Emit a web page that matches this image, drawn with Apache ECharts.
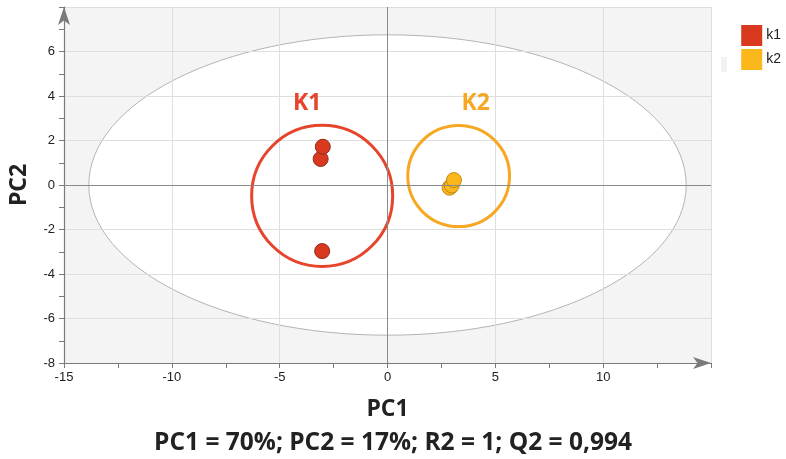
<!DOCTYPE html>
<html>
<head>
<meta charset="utf-8">
<script src="https://cdn.jsdelivr.net/npm/echarts@6/dist/echarts.min.js"></script>
<style>
  html, body { margin: 0; padding: 0; background: #fff; }
  #chart { width: 786px; height: 459px; }
</style>
</head>
<body>
<div id="chart"></div>
<script>
// PCA score plot, two groups with confidence circles
const groupNames = ['k1', 'k2'];
const k1Points = [[-3.1, 1.17], [-3.0, 1.72], [-3.03, -2.97]];
const k2Points = [[2.88, -0.12], [2.98, -0.02], [3.08, 0.22]];
// [centerX, centerY, radiusX, radiusY, label]
const clusterCircles = [
  [-3.03, -0.49, 3.27, 3.17, 'K1'],
  [3.3, 0.4, 2.36, 2.27, 'K2']
];
// Hotelling ellipse [centerX, centerY, radiusX, radiusY]
const hotelling = [[0, 0, 13.85, 6.75]];
const xRange = [-15, 15];
const yRange = [-8, 8];
const footnote = 'PC1 = 70%; PC2 = 17%; R2 = 1; Q2 = 0,994';

const circleColors = ['#e6442b', '#f7a823'];
const labelOffsets = [[-15, -22], [17, -22]];

const chart = echarts.init(document.getElementById('chart'));

function ellipseItem(params, api) {
  const c = api.coord([api.value(0), api.value(1)]);
  const s = api.size([api.value(2), api.value(3)]);
  return {
    type: 'ellipse',
    shape: { cx: c[0], cy: c[1], rx: s[0], ry: s[1] },
    style: { fill: '#fff', stroke: '#b4b4b4', lineWidth: 1 }
  };
}

function circleItem(params, api) {
  const c = api.coord([api.value(0), api.value(1)]);
  const s = api.size([api.value(2), api.value(3)]);
  const color = circleColors[params.dataIndex];
  const off = labelOffsets[params.dataIndex];
  return {
    type: 'group',
    children: [{
      type: 'ellipse',
      shape: { cx: c[0], cy: c[1], rx: s[0], ry: s[1] },
      style: { fill: 'none', stroke: color, lineWidth: 3 }
    }, {
      type: 'text',
      x: c[0] + off[0],
      y: c[1] - s[1] + off[1],
      style: {
        text: api.value(4),
        fill: color,
        font: 'bold 23px "Open Sans"',
        align: 'center',
        verticalAlign: 'middle'
      }
    }]
  };
}

const axisFont = { color: '#222', fontSize: 13, fontFamily: 'Liberation Sans' };

const option = {
  animation: false,
  grid: {
    left: 60, right: 75, top: 7, bottom: 96,
    show: true,
    backgroundColor: '#f4f4f4',
    borderWidth: 0,
    z: 0
  },
  legend: {
    data: groupNames,
    orient: 'vertical',
    right: 0,
    top: 20,
    icon: 'rect',
    itemWidth: 21,
    itemHeight: 21,
    itemGap: 3,
    itemStyle: { borderWidth: 0, opacity: 1 },
    textStyle: { color: '#222', fontSize: 14, fontFamily: 'Liberation Sans', padding: [0, 0, 0, -1] }
  },
  xAxis: {
    type: 'value',
    min: xRange[0],
    max: xRange[1],
    interval: 5,
    z: 1,
    name: 'PC1',
    nameLocation: 'middle',
    nameGap: 35,
    nameTextStyle: { color: '#222', fontSize: 23, fontWeight: 'bold', fontFamily: 'Open Sans' },
    axisLine: {
      onZero: false,
      symbol: ['none', 'arrow'],
      symbolSize: [9, 18],
      lineStyle: { color: '#7a7a7a', width: 1.2 }
    },
    axisTick: { show: true, length: 5, lineStyle: { color: '#7a7a7a' } },
    minorTick: { show: true, splitNumber: 2, length: 5, lineStyle: { color: '#7a7a7a' } },
    axisLabel: Object.assign({ margin: 8, showMaxLabel: false }, axisFont),
    splitLine: { show: true, lineStyle: { color: '#dedede', width: 1 } }
  },
  yAxis: {
    type: 'value',
    min: yRange[0],
    max: yRange[1],
    interval: 2,
    z: 1,
    name: 'PC2',
    nameLocation: 'middle',
    nameGap: 33,
    nameRotate: 90,
    nameTextStyle: { color: '#222', fontSize: 23, fontWeight: 'bold', fontFamily: 'Open Sans' },
    axisLine: {
      onZero: false,
      symbol: ['none', 'arrow'],
      symbolSize: [9, 18],
      lineStyle: { color: '#7a7a7a', width: 1.2 }
    },
    axisTick: { show: true, length: 5, lineStyle: { color: '#7a7a7a' } },
    minorTick: { show: true, splitNumber: 2, length: 5, lineStyle: { color: '#7a7a7a' } },
    axisLabel: Object.assign({ margin: 9, showMaxLabel: false }, axisFont),
    splitLine: { show: true, lineStyle: { color: '#dedede', width: 1 } }
  },
  graphic: [{
    type: 'text',
    left: 'center',
    top: 431,
    style: {
      text: footnote,
      fill: '#222',
      font: 'bold 24.5px "Open Sans"'
    }
  }, {
    type: 'rect',
    left: 721,
    top: 57,
    shape: { width: 6, height: 15 },
    style: { fill: '#f2f2f2' }
  }],
  series: [{
    type: 'custom',
    name: 'hotelling',
    z: 0.5,
    silent: true,
    renderItem: ellipseItem,
    data: hotelling,
    markLine: {
      silent: true,
      symbol: 'none',
      label: { show: false },
      lineStyle: { color: '#8a8a8a', width: 1, type: 'solid' },
      data: [{ xAxis: 0 }, { yAxis: 0 }]
    }
  }, {
    type: 'custom',
    name: 'circles',
    z: 3,
    silent: true,
    renderItem: circleItem,
    data: clusterCircles
  }, {
    type: 'scatter',
    name: groupNames[0],
    symbolSize: 15,
    z: 4,
    itemStyle: { color: '#d8391f', borderColor: '#93291a', borderWidth: 1, opacity: 1 },
    data: k1Points
  }, {
    type: 'scatter',
    name: groupNames[1],
    symbolSize: 15,
    z: 4,
    itemStyle: { color: '#fbb81c', borderColor: '#c4850e', borderWidth: 1, opacity: 1 },
    data: k2Points
  }]
};

chart.setOption(option);
</script>
</body>
</html>
